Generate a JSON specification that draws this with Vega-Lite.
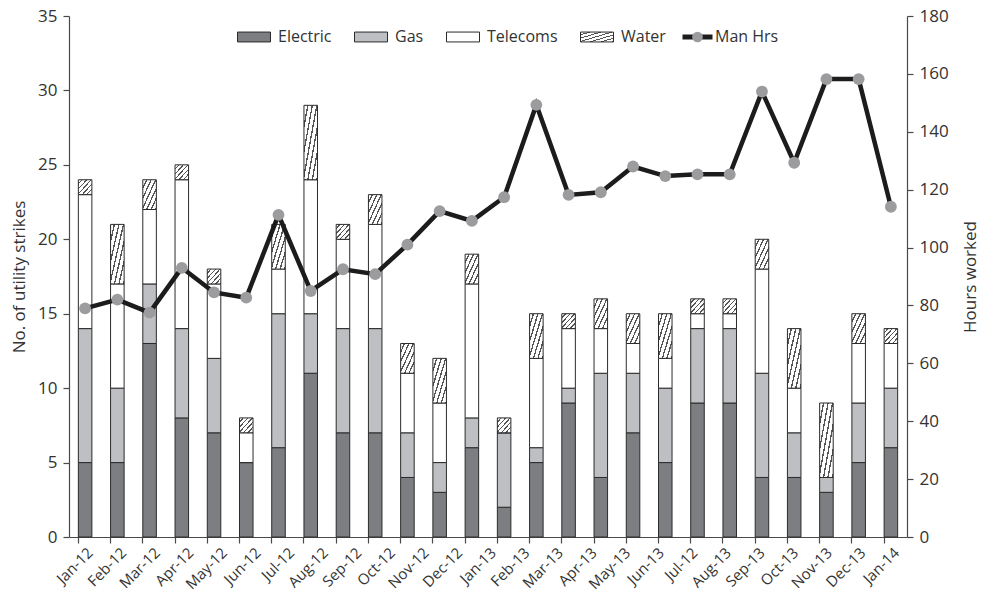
{
  "$schema": "https://vega.github.io/schema/vega-lite/v6.json",
  "width": 838,
  "height": 521,
  "autosize": {"type": "none"},
  "padding": {"left": 69, "top": 16, "right": 75, "bottom": 56},
  "background": "white",
  "config": {
    "font": "Open Sans",
    "view": {"stroke": null},
    "axis": {
      "grid": false,
      "domainColor": "#4a4a4a",
      "tickColor": "#4a4a4a",
      "domainWidth": 1.2,
      "tickWidth": 1.2,
      "labelColor": "#333333",
      "titleColor": "#333333",
      "labelFont": "Open Sans",
      "titleFont": "Open Sans",
      "titleFontWeight": "normal"
    },
    "legend": {"labelFont": "Open Sans", "labelColor": "#333333", "padding": 0}
  },
  "datasets": {
    "util": [
      {"bar": 1, "Electric": 5, "Gas": 9, "Telecoms": 9, "Water": 1, "ManHrs": 79},
      {"bar": 2, "Electric": 5, "Gas": 5, "Telecoms": 7, "Water": 4, "ManHrs": 82},
      {"bar": 3, "Electric": 13, "Gas": 4, "Telecoms": 5, "Water": 2, "ManHrs": 77.5},
      {"bar": 4, "Electric": 8, "Gas": 6, "Telecoms": 10, "Water": 1, "ManHrs": 93},
      {"bar": 5, "Electric": 7, "Gas": 5, "Telecoms": 5, "Water": 1, "ManHrs": 84.5},
      {"bar": 6, "Electric": 5, "Gas": 0, "Telecoms": 2, "Water": 1, "ManHrs": 82.7},
      {"bar": 7, "Electric": 6, "Gas": 9, "Telecoms": 3, "Water": 3, "ManHrs": 111.3},
      {"bar": 8, "Electric": 11, "Gas": 4, "Telecoms": 9, "Water": 5, "ManHrs": 85},
      {"bar": 9, "Electric": 7, "Gas": 7, "Telecoms": 6, "Water": 1, "ManHrs": 92.5},
      {"bar": 10, "Electric": 7, "Gas": 7, "Telecoms": 7, "Water": 2, "ManHrs": 90.8},
      {"bar": 11, "Electric": 4, "Gas": 3, "Telecoms": 4, "Water": 2, "ManHrs": 101},
      {"bar": 12, "Electric": 3, "Gas": 2, "Telecoms": 4, "Water": 3, "ManHrs": 112.6},
      {"bar": 13, "Electric": 6, "Gas": 2, "Telecoms": 9, "Water": 2, "ManHrs": 109.2},
      {"bar": 14, "Electric": 2, "Gas": 5, "Telecoms": 0, "Water": 1, "ManHrs": 117.4},
      {"bar": 15, "Electric": 5, "Gas": 1, "Telecoms": 6, "Water": 3, "ManHrs": 149.3},
      {"bar": 16, "Electric": 9, "Gas": 1, "Telecoms": 4, "Water": 1, "ManHrs": 118.2},
      {"bar": 17, "Electric": 4, "Gas": 7, "Telecoms": 3, "Water": 2, "ManHrs": 119.1},
      {"bar": 18, "Electric": 7, "Gas": 4, "Telecoms": 2, "Water": 2, "ManHrs": 128},
      {"bar": 19, "Electric": 5, "Gas": 5, "Telecoms": 2, "Water": 3, "ManHrs": 124.7},
      {"bar": 20, "Electric": 9, "Gas": 5, "Telecoms": 1, "Water": 1, "ManHrs": 125.3},
      {"bar": 21, "Electric": 9, "Gas": 5, "Telecoms": 1, "Water": 1, "ManHrs": 125.3},
      {"bar": 22, "Electric": 4, "Gas": 7, "Telecoms": 7, "Water": 2, "ManHrs": 153.9},
      {"bar": 23, "Electric": 4, "Gas": 3, "Telecoms": 3, "Water": 4, "ManHrs": 129.3},
      {"bar": 24, "Electric": 3, "Gas": 1, "Telecoms": 0, "Water": 5, "ManHrs": 158.2},
      {"bar": 25, "Electric": 5, "Gas": 4, "Telecoms": 4, "Water": 2, "ManHrs": 158.2},
      {"bar": 26, "Electric": 6, "Gas": 4, "Telecoms": 3, "Water": 1, "ManHrs": 114.1}
    ],
    "months": [
      {"month": "Jan-12"}, {"month": "Feb-12"}, {"month": "Mar-12"}, {"month": "Apr-12"},
      {"month": "May-12"}, {"month": "Jun-12"}, {"month": "Jul-12"}, {"month": "Aug-12"},
      {"month": "Sep-12"}, {"month": "Oct-12"}, {"month": "Nov-12"}, {"month": "Dec-12"},
      {"month": "Jan-13"}, {"month": "Feb-13"}, {"month": "Mar-13"}, {"month": "Apr-13"},
      {"month": "May-13"}, {"month": "Jun-13"}, {"month": "Jul-12\u200b"}, {"month": "Aug-13"},
      {"month": "Sep-13"}, {"month": "Oct-13"}, {"month": "Nov-13"}, {"month": "Dec-13"},
      {"month": "Jan-14"}
    ]
  },
  "layer": [
    {
      "layer": [
        {
          "data": {"name": "util"},
          "transform": [{"fold": ["Electric", "Gas", "Telecoms", "Water"], "as": ["type", "count"]}],
          "mark": {"type": "bar", "stroke": "#2b2b2b", "strokeWidth": 1},
          "encoding": {
            "x": {
              "field": "bar", "type": "ordinal",
              "scale": {"type": "band", "paddingInner": 0.58, "paddingOuter": 0.29},
              "axis": {"orient": "bottom", "labels": false, "title": null, "bandPosition": 0, "tickSize": 6}
            },
            "y": {
              "field": "count", "type": "quantitative", "stack": "zero",
              "scale": {"domain": [0, 35], "nice": false},
              "axis": {"orient": "left", "values": [0, 5, 10, 15, 20, 25, 30, 35], "title": "No. of utility strikes",
                       "labelFontSize": 17, "titleFontSize": 17, "tickSize": 6, "labelPadding": 6, "titlePadding": 9}
            },
            "order": {"field": "type", "type": "nominal", "sort": "ascending"},
            "color": {
              "field": "type", "type": "nominal",
              "scale": {
                "domain": ["Electric", "Gas", "Telecoms", "Water"],
                "range": ["#7d7e82", "#bebfc2", "#ffffff",
                  {"expr": "{gradient: 'linear', x1: 0, y1: 0, x2: 1, y2: 1, stops: [{offset: 0, color: '#ffffff'}, {offset: 0.1167, color: '#ffffff'}, {offset: 0.1167, color: '#555555'}, {offset: 0.1667, color: '#555555'}, {offset: 0.1667, color: '#ffffff'}, {offset: 0.2833, color: '#ffffff'}, {offset: 0.2833, color: '#555555'}, {offset: 0.3333, color: '#555555'}, {offset: 0.3333, color: '#ffffff'}, {offset: 0.45, color: '#ffffff'}, {offset: 0.45, color: '#555555'}, {offset: 0.5, color: '#555555'}, {offset: 0.5, color: '#ffffff'}, {offset: 0.6167, color: '#ffffff'}, {offset: 0.6167, color: '#555555'}, {offset: 0.6667, color: '#555555'}, {offset: 0.6667, color: '#ffffff'}, {offset: 0.7833, color: '#ffffff'}, {offset: 0.7833, color: '#555555'}, {offset: 0.8333, color: '#555555'}, {offset: 0.8333, color: '#ffffff'}, {offset: 0.95, color: '#ffffff'}, {offset: 0.95, color: '#555555'}, {offset: 1, color: '#555555'}]}"}
                ]
              },
              "legend": {
                "orient": "none", "legendX": 168, "legendY": 4, "direction": "horizontal", "title": null,
                "symbolType": "M-1,-0.3H1V0.3H-1Z", "symbolSize": 1089, "symbolStrokeWidth": 1,
                "labelFontSize": 16, "labelOffset": 7, "columnPadding": 20
              }
            }
          }
        },
        {
          "layer": [
            {
              "data": {"name": "util"},
              "mark": {"type": "line", "strokeWidth": 4.5},
              "encoding": {
                "x": {"field": "bar", "type": "ordinal",
                      "scale": {"type": "band", "paddingInner": 0.58, "paddingOuter": 0.29},
                      "axis": {"orient": "bottom", "labels": false, "title": null, "bandPosition": 0, "tickSize": 6}},
                "y": {"field": "ManHrs", "type": "quantitative",
                      "scale": {"domain": [0, 180], "nice": false},
                      "axis": {"orient": "right", "values": [0, 20, 40, 60, 80, 100, 120, 140, 160, 180], "title": "Hours worked",
                               "labelFontSize": 17, "titleFontSize": 17, "tickSize": 6, "labelPadding": 6, "titlePadding": 14, "titleAngle": -90, "titleBaseline": "top"}},
                "stroke": {"datum": "Man Hrs", "scale": {"range": ["#1c1c1c"]},
                           "legend": {"orient": "none", "legendX": 611, "legendY": 3.5, "title": null,
                                      "symbolType": "M-1,0H-0.3M0.3,0H1", "symbolSize": 900, "symbolStrokeWidth": 5,
                                      "labelFontSize": 16, "labelOffset": 0}}
              }
            },
            {
              "data": {"name": "util"},
              "mark": {"type": "circle", "size": 140, "opacity": 1},
              "encoding": {
                "x": {"field": "bar", "type": "ordinal",
                      "scale": {"type": "band", "paddingInner": 0.58, "paddingOuter": 0.29},
                      "axis": {"orient": "bottom", "labels": false, "title": null, "bandPosition": 0, "tickSize": 6}},
                "y": {"field": "ManHrs", "type": "quantitative",
                      "scale": {"domain": [0, 180], "nice": false},
                      "axis": {"orient": "right", "values": [0, 20, 40, 60, 80, 100, 120, 140, 160, 180], "title": "Hours worked",
                               "labelFontSize": 17, "titleFontSize": 17, "tickSize": 6, "labelPadding": 6, "titlePadding": 14, "titleAngle": -90, "titleBaseline": "top"}},
                "fill": {"datum": "Hours worked", "scale": {"range": ["#9c9c9e"]},
                         "legend": {"orient": "none", "legendX": 623, "legendY": 15.5, "title": null,
                                    "symbolType": "circle", "symbolSize": 115, "symbolStrokeWidth": 0,
                                    "labelExpr": "''", "labelFontSize": 1}}
              }
            }
          ]
        }
      ],
      "resolve": {"scale": {"y": "independent"}}
    },
    {
      "data": {"name": "months"},
      "mark": {"type": "point", "opacity": 0},
      "encoding": {
        "x": {"field": "month", "type": "nominal", "sort": null,
              "scale": {"type": "point", "padding": 0.47},
              "axis": {"orient": "bottom", "labelAngle": -45, "ticks": false, "domain": false, "title": null,
                       "labelFontSize": 15, "labelPadding": 8}}
      }
    }
  ],
  "resolve": {"scale": {"x": "independent", "y": "independent"}}
}
